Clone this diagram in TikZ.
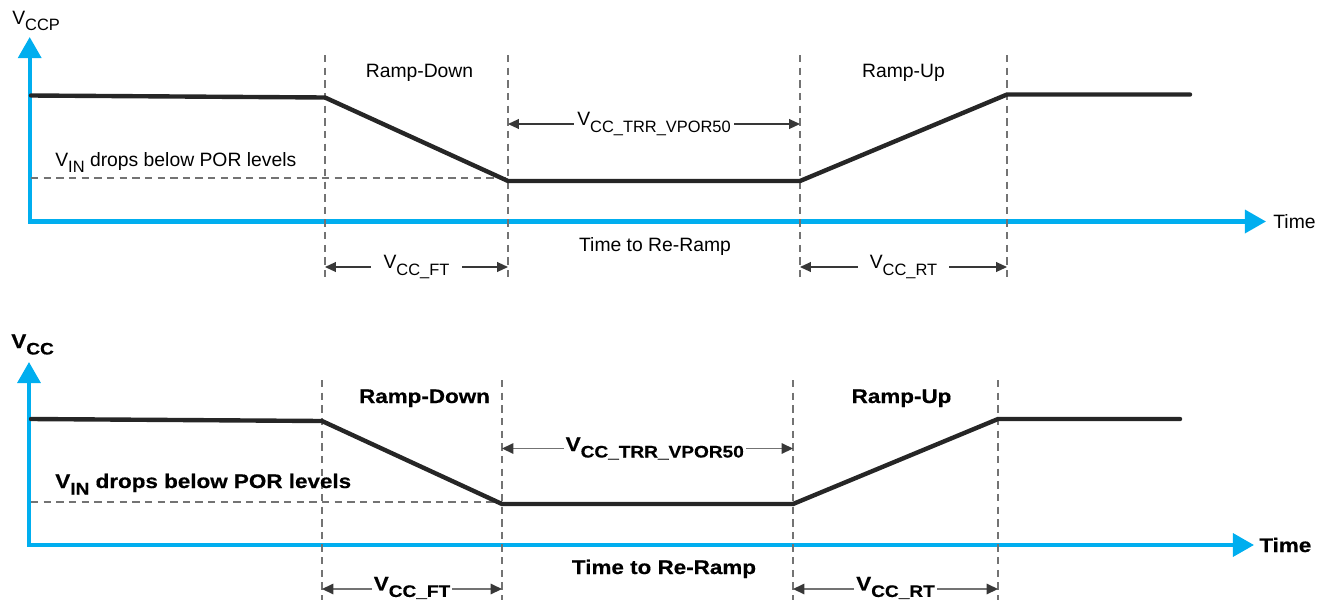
\documentclass[tikz,border=0pt]{standalone}
\usepackage{fontspec}
\usepackage{graphicx}
\setmainfont{Liberation Sans}
\newfontfamily\heavyfont[FakeStretch=1.14,FakeBold=0.5]{Liberation Sans Bold}
\usetikzlibrary{arrows.meta}
\definecolor{axisblue}{RGB}{0,174,239}
\colorlet{tracegray}{black!85}
\colorlet{guidegray}{black!55}
\colorlet{spangray}{black!78}
\colorlet{lightspan}{black!55}
\newcommand{\vsub}[1]{V\raisebox{-0.33em}{\scalebox{0.85}{#1}}}

\begin{document}
\begin{tikzpicture}[x=0.02cm,y=-0.02cm,
    axis/.style={axisblue,line width=2.3pt,{Triangle[width=13pt,length=12pt]}-{Triangle[width=13pt,length=12pt]}},
    trace/.style={tracegray,line width=2.5pt,line cap=round},
    guide/.style={guidegray,line width=0.6pt,dash pattern=on 4.2pt off 3pt},
    span/.style={spangray,line width=0.7pt,{Triangle[width=5.6pt,length=6.2pt]}-{Triangle[width=5.6pt,length=6.2pt]}},
    softspan/.style={lightspan,line width=0.8pt,{Triangle[width=6pt,length=6.5pt,color=spangray]}-{Triangle[width=6pt,length=6.5pt,color=spangray]}},
    toptxt/.style={inner sep=0pt,font=\fontsize{11}{13}\selectfont},
    bottxt/.style={inner sep=0pt,font=\heavyfont\fontsize{11.2}{13}\selectfont},
    gap/.style={fill=white,text=black,inner xsep=5pt,inner ysep=1pt}]

      \useasboundingbox (0,0) rectangle (1325,599);

      % upper panel: V_CCP
      \coordinate (tytip) at (29.7,37);
      \coordinate (torig) at (29.7,221.5);
      \coordinate (txtip) at (1266,221.5);
      \draw [axis] (tytip) -- (torig) -- (txtip);

      \foreach \name/\xx in {tv1/325,tv2/508,tv3/800,tv4/1007} {
        \coordinate (\name a) at (\xx,55);
        \coordinate (\name b) at (\xx,278);
        \draw [guide] (\name a) -- (\name b);
      }
      \coordinate (tpor) at (31,178);
      \coordinate (tporend) at (508,178);
      \draw [guide] (tpor) -- (tporend);

      \coordinate (ta) at (31,95.5);
      \coordinate (tb) at (325,97.5);
      \coordinate (tc) at (508,181);
      \coordinate (td) at (800,181);
      \coordinate (te) at (1007,94.5);
      \coordinate (tf) at (1190,94.5);
      \draw [trace] (ta) -- (tb) -- (tc) -- (td) -- (te) -- (tf);

      \node [toptxt,anchor=base west] (vccp) at (12,24) {\vsub{CCP}};
      \node [toptxt,anchor=west] (ttime) at (1273,221.5) {Time};
      \node [toptxt,anchor=base] (tdown) at (419.5,77.5) {Ramp-Down};
      \node [toptxt,anchor=base] (tup) at (903.5,77) {Ramp-Up};
      \node [toptxt,anchor=base west] (tvin) at (55,166) {\vsub{IN} drops below POR levels};
      \node [toptxt,anchor=base] (tre) at (655,251) {Time to Re-Ramp};

      \coordinate (ttrr1) at (508,124);
      \coordinate (ttrr2) at (800,124);
      \draw [span] (ttrr1) -- (ttrr2) node [midway,toptxt,gap,inner xsep=2pt] (ttrrlbl) {\vsub{CC\_TRR\_VPOR50}};
      \coordinate (tft1) at (325,267);
      \coordinate (tft2) at (508,267);
      \draw [span] (tft1) -- (tft2) node [midway,toptxt,gap,inner xsep=7pt] (tftlbl) {\vsub{CC\_FT}};
      \coordinate (trt1) at (800,267);
      \coordinate (trt2) at (1007,267);
      \draw [span] (trt1) -- (trt2) node [midway,toptxt,gap,inner xsep=7pt] (trtlbl) {\vsub{CC\_RT}};

      % lower panel: V_CC
      \coordinate (bytip) at (29,362);
      \coordinate (borig) at (29,545);
      \coordinate (bxtip) at (1254,545);
      \draw [axis] (bytip) -- (borig) -- (bxtip);

      \foreach \name/\xx in {bv1/322,bv2/502,bv3/793,bv4/998} {
        \coordinate (\name a) at (\xx,380);
        \coordinate (\name b) at (\xx,605);
        \draw [guide] (\name a) -- (\name b);
      }
      \coordinate (bpor) at (31,502);
      \coordinate (bporend) at (502,502);
      \draw [guide] (bpor) -- (bporend);

      \coordinate (ba) at (31,419);
      \coordinate (bb) at (322,421);
      \coordinate (bc) at (502,504);
      \coordinate (bd) at (793,504);
      \coordinate (be) at (998,419);
      \coordinate (bf) at (1180,419);
      \draw [trace] (ba) -- (bb) -- (bc) -- (bd) -- (be) -- (bf);

      \node [bottxt,anchor=base west] (vcc) at (11,348) {\vsub{CC}};
      \node [bottxt,anchor=west] (btime) at (1259,545) {Time};
      \node [bottxt,anchor=base] (bdown) at (424.5,403) {Ramp-Down};
      \node [bottxt,anchor=base] (bup) at (901.5,403) {Ramp-Up};
      \node [bottxt,anchor=base west] (bvin) at (55,488) {\vsub{IN} drops below POR levels};
      \node [bottxt,anchor=base] (bre) at (664,574) {Time to Re-Ramp};

      \coordinate (btrr1) at (502,448.5);
      \coordinate (btrr2) at (793,448.5);
      \draw [softspan] (btrr1) -- (btrr2) node [pos=0.525,bottxt,gap,inner xsep=1pt] (btrrlbl) {\vsub{CC\_TRR\_VPOR50}};
      \coordinate (bft1) at (322,589);
      \coordinate (bft2) at (502,589);
      \draw [softspan] (bft1) -- (bft2) node [midway,bottxt,gap,inner xsep=1pt,inner ysep=0pt,yshift=0.6pt] (bftlbl) {\vsub{CC\_FT}};
      \coordinate (brt1) at (793,589);
      \coordinate (brt2) at (998,589);
      \draw [softspan] (brt1) -- (brt2) node [midway,bottxt,gap,inner xsep=1pt,inner ysep=0pt,yshift=0.6pt] (brtlbl) {\vsub{CC\_RT}};

    \end{tikzpicture}
\end{document}
